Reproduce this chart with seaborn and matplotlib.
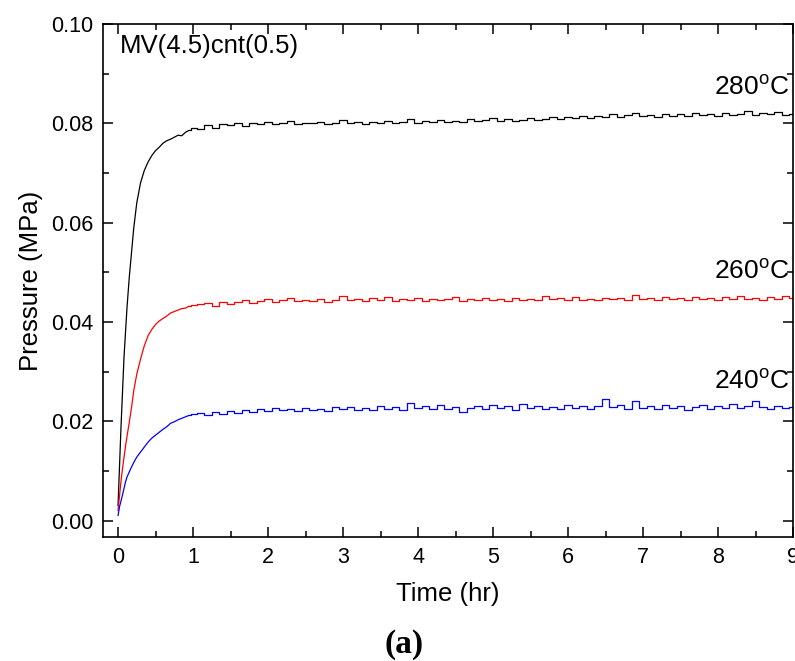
import numpy as np
import pandas as pd
import matplotlib
matplotlib.use("Agg")
import matplotlib.pyplot as plt
from matplotlib.ticker import MultipleLocator, FormatStrFormatter
import seaborn as sns

# tempo (hr) - amostragem densa no inicio
time_hr = [0.00, 0.02, 0.04, 0.06, 0.08, 0.10, 0.12, 0.15, 0.18, 0.21, 0.25, 0.30, 0.35,
           0.40, 0.45, 0.50, 0.55, 0.60, 0.65, 0.70, 0.75, 0.80, 0.85, 0.90, 0.95, 1.00,
           1.1, 1.2, 1.3, 1.4, 1.5, 1.6, 1.7, 1.8, 1.9, 2.0,
           2.1, 2.2, 2.3, 2.4, 2.5, 2.6, 2.7, 2.8, 2.9, 3.0,
           3.1, 3.2, 3.3, 3.4, 3.5, 3.6, 3.7, 3.8, 3.9, 4.0,
           4.1, 4.2, 4.3, 4.4, 4.5, 4.6, 4.7, 4.8, 4.9, 5.0,
           5.1, 5.2, 5.3, 5.4, 5.5, 5.6, 5.7, 5.8, 5.9, 6.0,
           6.1, 6.2, 6.3, 6.4, 6.5, 6.6, 6.7, 6.8, 6.9, 7.0,
           7.1, 7.2, 7.3, 7.4, 7.5, 7.6, 7.7, 7.8, 7.9, 8.0,
           8.1, 8.2, 8.3, 8.4, 8.5, 8.6, 8.7, 8.8, 8.9, 9.0]

p_280 = [0.0030, 0.0110, 0.0190, 0.0260, 0.0330, 0.0380, 0.0430, 0.0490, 0.0540, 0.0590,
         0.0640, 0.0680, 0.0705, 0.0722, 0.0735, 0.0745, 0.0752, 0.0760, 0.0765, 0.0768,
         0.0772, 0.0776, 0.0775, 0.0782, 0.0786, 0.0790,
         0.0788, 0.0796, 0.0791, 0.0799, 0.0797, 0.0801, 0.0795, 0.0800, 0.0798, 0.0802,
         0.0799, 0.0800, 0.0804, 0.0799, 0.0801, 0.0800, 0.0803, 0.0798, 0.0801, 0.0806,
         0.0800, 0.0802, 0.0799, 0.0803, 0.0801, 0.0805, 0.0800, 0.0802, 0.0808, 0.0801,
         0.0804, 0.0802, 0.0807, 0.0803, 0.0805, 0.0802, 0.0809, 0.0804, 0.0806, 0.0810,
         0.0805, 0.0808, 0.0804, 0.0807, 0.0811, 0.0806, 0.0809, 0.0813, 0.0808, 0.0812,
         0.0810, 0.0815, 0.0811, 0.0814, 0.0812, 0.0818, 0.0813, 0.0816, 0.0821, 0.0814,
         0.0817, 0.0813, 0.0819, 0.0815, 0.0818, 0.0814, 0.0820, 0.0816, 0.0818, 0.0815,
         0.0821, 0.0817, 0.0819, 0.0824, 0.0816, 0.0820, 0.0818, 0.0822, 0.0817, 0.0819]

p_260 = [0.0020, 0.0050, 0.0080, 0.0105, 0.0128, 0.0150, 0.0170, 0.0198, 0.0228, 0.0262,
         0.0295, 0.0325, 0.0352, 0.0372, 0.0385, 0.0395, 0.0402, 0.0407, 0.0412, 0.0418,
         0.0421, 0.0424, 0.0427, 0.0428, 0.0432, 0.0434,
         0.0436, 0.0438, 0.0433, 0.0440, 0.0437, 0.0441, 0.0445, 0.0439, 0.0443, 0.0446,
         0.0441, 0.0444, 0.0449, 0.0442, 0.0445, 0.0443, 0.0447, 0.0441, 0.0445, 0.0452,
         0.0444, 0.0446, 0.0442, 0.0448, 0.0444, 0.0450, 0.0443, 0.0446, 0.0445, 0.0449,
         0.0443, 0.0447, 0.0444, 0.0446, 0.0451, 0.0443, 0.0446, 0.0444, 0.0448, 0.0445,
         0.0447, 0.0443, 0.0449, 0.0445, 0.0447, 0.0444, 0.0452, 0.0446, 0.0448, 0.0444,
         0.0450, 0.0445, 0.0447, 0.0444, 0.0449, 0.0446, 0.0448, 0.0445, 0.0455, 0.0447,
         0.0449, 0.0445, 0.0450, 0.0446, 0.0448, 0.0444, 0.0451, 0.0446, 0.0449, 0.0445,
         0.0450, 0.0447, 0.0452, 0.0446, 0.0449, 0.0445, 0.0450, 0.0447, 0.0453, 0.0448]

p_240 = [0.0010, 0.0028, 0.0040, 0.0052, 0.0065, 0.0078, 0.0088, 0.0098, 0.0108, 0.0117,
         0.0128, 0.0138, 0.0148, 0.0158, 0.0166, 0.0172, 0.0178, 0.0184, 0.0189, 0.0196,
         0.0199, 0.0203, 0.0206, 0.0209, 0.0212, 0.0214,
         0.0216, 0.0212, 0.0219, 0.0215, 0.0221, 0.0217, 0.0223, 0.0219, 0.0224, 0.0221,
         0.0226, 0.0222, 0.0225, 0.0220, 0.0227, 0.0223, 0.0225, 0.0221, 0.0228, 0.0224,
         0.0229, 0.0223, 0.0226, 0.0222, 0.0231, 0.0225, 0.0228, 0.0223, 0.0236, 0.0226,
         0.0230, 0.0224, 0.0232, 0.0225, 0.0229, 0.0218, 0.0227, 0.0231, 0.0224, 0.0233,
         0.0226, 0.0230, 0.0222, 0.0234, 0.0227, 0.0231, 0.0224, 0.0229, 0.0225, 0.0233,
         0.0227, 0.0231, 0.0224, 0.0230, 0.0245, 0.0228, 0.0232, 0.0225, 0.0240, 0.0227,
         0.0231, 0.0224, 0.0233, 0.0226, 0.0230, 0.0222, 0.0229, 0.0233, 0.0225, 0.0231,
         0.0226, 0.0234, 0.0227, 0.0231, 0.0240, 0.0228, 0.0224, 0.0230, 0.0226, 0.0229]

temps = ["280", "260", "240"]
cores = {"280": "black", "260": "#ff0000", "240": "#0000ff"}

df = pd.concat([
    pd.DataFrame({"t": time_hr, "p": p_280, "temp": "280"}),
    pd.DataFrame({"t": time_hr, "p": p_260, "temp": "260"}),
    pd.DataFrame({"t": time_hr, "p": p_240, "temp": "240"}),
], ignore_index=True)

# subida suave ate ~0.9 hr, ruido em degraus no patamar
subida = df[df["t"] <= 0.95]
patamar = df[df["t"] >= 0.95]

sns.set_style("ticks")
plt.rcParams["font.family"] = ["Liberation Sans", "DejaVu Sans"]
plt.rcParams["mathtext.fontset"] = "custom"
plt.rcParams["mathtext.rm"] = "Liberation Sans"
plt.rcParams["text.color"] = "black"
plt.rcParams["axes.labelcolor"] = "black"
plt.rcParams["xtick.color"] = "black"
plt.rcParams["ytick.color"] = "black"
plt.rcParams["axes.edgecolor"] = "black"

fig = plt.figure(figsize=(7.95, 6.61), dpi=100)
ax = fig.add_axes([0.1296, 0.1876, 0.8679, 0.7761])

sns.lineplot(data=subida, x="t", y="p", hue="temp", hue_order=temps, palette=cores,
             estimator=None, sort=False, linewidth=0.9, legend=False, ax=ax)
sns.lineplot(data=patamar, x="t", y="p", hue="temp", hue_order=temps, palette=cores,
             estimator=None, sort=False, linewidth=0.9, drawstyle="steps-mid",
             legend=False, ax=ax)

ax.set_xlim(-0.2, 9.0)
ax.set_ylim(-0.0033, 0.10)
ax.xaxis.set_major_locator(MultipleLocator(1))
ax.xaxis.set_minor_locator(MultipleLocator(0.5))
ax.yaxis.set_major_locator(MultipleLocator(0.02))
ax.yaxis.set_minor_locator(MultipleLocator(0.01))
ax.yaxis.set_major_formatter(FormatStrFormatter("%.2f"))
ax.tick_params(which="both", direction="in", top=True, right=True, width=1.1,
               labelsize=15.5, pad=7)
ax.tick_params(which="major", length=7.5)
ax.tick_params(which="minor", length=4.5)
for s in ax.spines.values():
    s.set_linewidth(1.2)

ax.set_xlabel("Time (hr)", fontsize=18.5, labelpad=10)
ax.set_ylabel("Pressure (MPa)", fontsize=18.5, labelpad=6)

ax.text(0.02, 0.0955, "MV(4.5)cnt(0.5)", fontsize=18.5, va="center", ha="left")
ax.text(8.95, 0.0872, r"280$^{\rm o}$C", fontsize=19, va="center", ha="right")
ax.text(8.95, 0.0502, r"260$^{\rm o}$C", fontsize=19, va="center", ha="right")
ax.text(8.95, 0.0280, r"240$^{\rm o}$C", fontsize=19, va="center", ha="right")

fig.text(0.508, 0.025, "(a)", fontsize=24, fontweight="bold",
         family="Liberation Serif", ha="center", va="center")

fig.savefig("out.png", dpi=100)
